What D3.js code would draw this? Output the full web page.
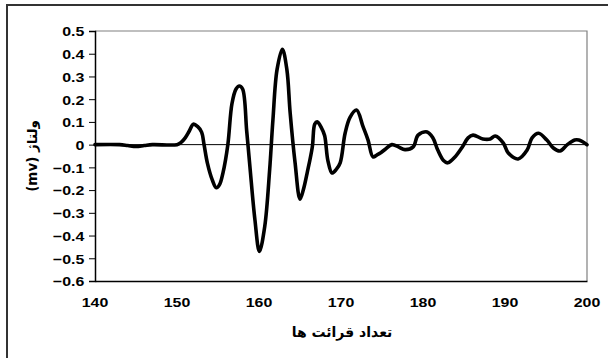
<!DOCTYPE html>
<html><head><meta charset="utf-8">
<script src="https://cdn.jsdelivr.net/npm/d3@7"></script>
<style>
html,body{margin:0;padding:0;background:#fff;}
svg{display:block;}
text{font-family:"Liberation Sans",Arial,"DejaVu Sans",sans-serif;font-weight:bold;fill:#000;}
</style></head>
<body>
<script>
// Data
const sampleX = [140,143,144,145,146,147,150,150.5,151,151.5,152,152.5,153,153.3,153.7,154.3,154.8,155.2,155.6,156.2,156.7,157.2,157.6,158.0,158.5,158.9,159.5,160.05,160.7,161.3,161.7,162.2,162.85,163.4,163.8,164.4,165.0,165.4,165.9,166.5,166.8,167.1,167.6,168.0,168.4,168.9,169.4,169.9,170.5,171.1,171.9,172.7,173.3,173.9,174.4,174.8,175.4,176.2,177.0,177.8,178.8,179.4,180.5,181.2,181.8,182.5,183.0,183.9,184.8,185.5,186.1,187.3,188.2,188.8,189.8,190.4,191.6,192.7,193.3,194.1,195.1,195.9,196.7,197.6,198.5,199.0,200];
const voltage = [0,0,-0.004,-0.008,-0.004,0,0,0.01,0.03,0.06,0.09,0.08,0.055,0.0,-0.08,-0.155,-0.19,-0.175,-0.125,0.0,0.18,0.245,0.258,0.245,0.06,-0.1,-0.33,-0.47,-0.36,-0.11,0.11,0.33,0.42,0.33,0.14,-0.08,-0.24,-0.2,-0.12,-0.01,0.09,0.1,0.075,0.04,-0.07,-0.125,-0.11,-0.08,0.05,0.12,0.152,0.078,0.02,-0.054,-0.045,-0.037,-0.02,0.0,-0.01,-0.022,-0.01,0.042,0.056,0.03,-0.024,-0.07,-0.08,-0.054,-0.01,0.03,0.042,0.025,0.025,0.038,0.007,-0.037,-0.063,-0.024,0.03,0.05,0.02,-0.015,-0.028,0.0,0.02,0.02,0.0];
const xTicks = [140,150,160,170,180,190,200];
const yTicks = [0.5,0.4,0.3,0.2,0.1,0,-0.1,-0.2,-0.3,-0.4,-0.5,-0.6];
const xTitle = "تعداد قرائت ها";
const yTitle = "ولتاژ (mv)";

const W = 608, H = 358;
const L = 95, R = 587, T = 31, B = 281;

const svg = d3.select("body").append("svg").attr("width", W).attr("height", H);

// outer chart frame
svg.append("rect").attr("x", 7).attr("y", 5).attr("width", 700).attr("height", 500)
  .attr("fill", "none").attr("stroke", "#333").attr("stroke-width", 2);

const x = d3.scaleLinear().domain([140, 200]).range([L, R]);
const y = d3.scaleLinear().domain([-0.6, 0.5]).range([B, T]);

// plot area border (top/right gray)
svg.append("path").attr("d", `M${L},${T}H${R}V${B}`)
  .attr("fill", "none").attr("stroke", "#808080").attr("stroke-width", 1.2);

// zero line
svg.append("line").attr("x1", L).attr("x2", R).attr("y1", y(0)).attr("y2", y(0))
  .attr("stroke", "#000").attr("stroke-width", 1);

// y axis
const yAxis = svg.append("g").attr("transform", `translate(${L},0)`)
  .call(d3.axisLeft(y).tickValues(yTicks).tickSize(6).tickPadding(3)
    .tickFormat(d => d === 0 ? "0" : d3.format(".1f")(d)));
yAxis.select(".domain").attr("stroke", "#000").attr("stroke-width", 1.5);
yAxis.selectAll(".tick line").attr("stroke", "#000");
yAxis.selectAll("text").attr("font-size", 13.5).attr("dy", "0.36em")
  .attr("transform", "scale(1.18,1)")
  .style("font-family", '"Liberation Sans",Arial,sans-serif').style("font-weight", "bold");

// x axis
const xAxis = svg.append("g").attr("transform", `translate(0,${B})`)
  .call(d3.axisBottom(x).tickValues(xTicks).tickSize(0).tickPadding(16).tickFormat(d3.format("d")));
xAxis.select(".domain").attr("stroke", "#000").attr("stroke-width", 1.5);
xAxis.selectAll("text").attr("font-size", 13.5)
  .attr("transform", "scale(1.18,1)")
  .style("font-family", '"Liberation Sans",Arial,sans-serif').style("font-weight", "bold");
// keep x labels centred on their ticks after horizontal scaling
xAxis.selectAll(".tick").each(function(d) {
  d3.select(this).attr("transform", `translate(${x(d)},0)`);
});

// series line
const pts = sampleX.map((v, i) => [v, voltage[i]]);
svg.append("path").datum(pts)
  .attr("fill", "none").attr("stroke", "#000").attr("stroke-width", 3.6)
  .attr("stroke-linejoin", "round").attr("stroke-linecap", "round")
  .attr("d", d3.line().x(d => x(d[0])).y(d => y(d[1])).curve(d3.curveCatmullRom.alpha(0.5)));

// titles
svg.append("text").attr("x", 342).attr("y", 337).attr("text-anchor", "middle")
  .attr("font-size", 14).style("font-family", '"DejaVu Sans",sans-serif').attr("direction", "rtl")
  .text(xTitle);
svg.append("text").attr("transform", `translate(37,${(T + B) / 2}) rotate(-90)`)
  .attr("text-anchor", "middle").attr("font-size", 13.5)
  .style("font-family", '"DejaVu Sans",sans-serif').attr("direction", "rtl")
  .text(yTitle);
</script>
</body></html>
